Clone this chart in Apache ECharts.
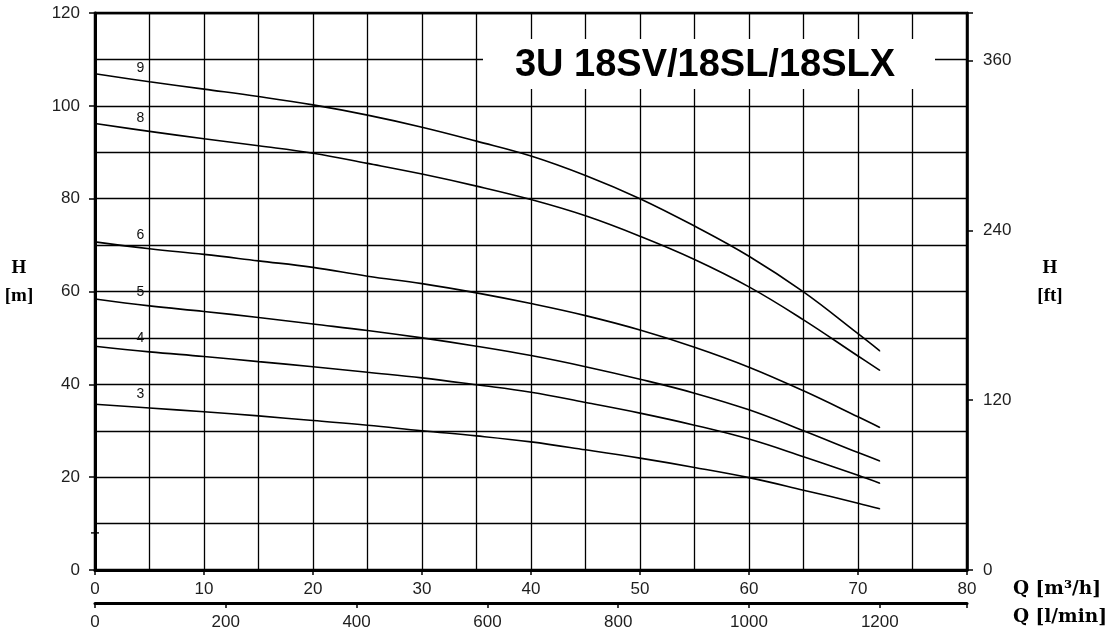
<!DOCTYPE html>
<html>
<head>
<meta charset="utf-8">
<script src="https://cdn.jsdelivr.net/npm/echarts@6/dist/echarts.min.js"></script>
<style>
  html, body { margin: 0; padding: 0; background: #fff; }
  #chart { width: 1111px; height: 633px; }
</style>
</head>
<body>
<div id="chart"></div>
<script>
// flow rate, m3/h
const flow = [0, 5, 10, 15, 20, 25, 30, 35, 40, 45, 50, 55, 60, 65, 70, 72]
// head, m (one curve per number of stages)
const head9 = [106.9, 105.2, 103.6, 102.0, 100.2, 98.0, 95.4, 92.4, 89.2, 85.0, 80.0, 74.1, 67.6, 59.9, 50.9, 47.2]
const head8 = [96.2, 94.5, 92.9, 91.4, 89.8, 87.6, 85.3, 82.7, 79.8, 76.3, 71.9, 66.9, 61.0, 53.9, 46.1, 43.0]
const head6 = [70.7, 69.2, 68.0, 66.6, 65.2, 63.3, 61.7, 59.7, 57.4, 54.8, 51.7, 48.0, 43.7, 38.6, 33.0, 30.7]
const head5 = [58.4, 56.9, 55.7, 54.4, 53.0, 51.6, 50.0, 48.2, 46.2, 43.8, 41.1, 38.1, 34.5, 30.0, 25.3, 23.5]
const head4 = [48.2, 47.0, 46.0, 44.9, 43.8, 42.6, 41.4, 39.9, 38.3, 36.1, 33.8, 31.2, 28.2, 24.4, 20.4, 18.7]
const head3 = [35.7, 34.9, 34.1, 33.2, 32.2, 31.2, 30.0, 28.9, 27.6, 25.9, 24.1, 22.1, 19.9, 17.2, 14.4, 13.2]
const curveNames = ['9', '8', '6', '5', '4', '3']
const curveHeads = [head9, head8, head6, head5, head4, head3]
// small cross on the H axis
const crossMark = [[0, 8]]

const FONT = '"Liberation Sans", Arial, sans-serif'
const SERIF = '"Liberation Serif", "Times New Roman", serif'
const labelStyle = { fontFamily: FONT, fontSize: 17, color: '#1e1e1e' }
const gridLine = { color: '#000', width: 1.3 }
const tickLine = { color: '#000', width: 1.5 }

const chart = echarts.init(document.getElementById('chart'))

const lineSeries = curveNames.map((name, k) => ({
  name: name,
  type: 'line',
  smooth: 0.4,
  symbol: 'circle',
  symbolSize: 1,
  itemStyle: { color: '#000', borderWidth: 0 },
  lineStyle: { color: '#000', width: 1.6 },
  xAxisIndex: 0,
  yAxisIndex: 0,
  z: 5,
  data: flow.map((x, i) => i === 1
    ? {
        value: [x, curveHeads[k][i]],
        label: {
          show: true,
          position: 'top',
          distance: 5,
          offset: [-9, -1],
          formatter: name,
          fontFamily: FONT,
          fontSize: 14,
          color: '#111'
        }
      }
    : [x, curveHeads[k][i]])
}))

// keep only labels that sit on the step
const stepLabel = (step) => (v) => (Math.abs(v / step - Math.round(v / step)) < 1e-6 ? String(Math.round(v)) : '')

const option = {
  animation: false,
  backgroundColor: '#fff',
  grid: {
    left: 95,
    right: 144,
    top: 13,
    bottom: 63,
    show: true,
    borderColor: '#000',
    borderWidth: 2.5
  },
  xAxis: [
    {
      type: 'value',
      position: 'bottom',
      min: 0,
      max: 80,
      interval: 10,
      axisLine: { show: true, onZero: false, lineStyle: { color: '#000', width: 3 } },
      axisTick: { show: true, inside: false, length: 5, lineStyle: tickLine },
      axisLabel: { ...labelStyle, margin: 11 },
      splitLine: { show: true, lineStyle: gridLine },
      minorTick: { show: false, splitNumber: 2 },
      minorSplitLine: { show: true, lineStyle: gridLine }
    },
    {
      type: 'value',
      position: 'bottom',
      offset: 33,
      min: 0,
      max: 80 * 1000 / 60,
      interval: 200,
      axisLine: { show: true, onZero: false, lineStyle: { color: '#000', width: 3 } },
      axisTick: { show: true, inside: false, length: 5, lineStyle: tickLine },
      axisLabel: { ...labelStyle, margin: 11, formatter: stepLabel(200) },
      splitLine: { show: false }
    }
  ],
  yAxis: [
    {
      type: 'value',
      position: 'left',
      min: 0,
      max: 120,
      interval: 20,
      axisLine: { show: true, onZero: false, lineStyle: { color: '#000', width: 3 } },
      axisTick: { show: true, inside: false, length: 6, lineStyle: tickLine },
      axisLabel: { ...labelStyle, margin: 15 },
      splitLine: { show: true, lineStyle: gridLine },
      minorTick: { show: false, splitNumber: 2 },
      minorSplitLine: { show: true, lineStyle: gridLine }
    },
    {
      type: 'value',
      position: 'right',
      min: 0,
      max: 120 / 0.3048,
      interval: 120,
      axisLine: { show: true, onZero: false, lineStyle: { color: '#000', width: 2.5 } },
      axisTick: { show: true, inside: false, length: 6, lineStyle: tickLine },
      axisLabel: { ...labelStyle, margin: 16, formatter: stepLabel(120) },
      splitLine: { show: false }
    }
  ],
  graphic: [
    // white box behind the title
    {
      type: 'rect',
      z: 10,
      shape: { x: 483, y: 39, width: 452, height: 50 },
      style: { fill: '#fff' }
    },
    {
      type: 'text',
      z: 11,
      style: {
        text: '3U 18SV/18SL/18SLX',
        x: 705, y: 66,
        align: 'center', verticalAlign: 'middle',
        textAlign: 'center', textVerticalAlign: 'middle',
        font: 'bold 38px ' + FONT,
        fill: '#000'
      }
    },
    axisTitle('H\n[m]', 19, 282, 'center', 19, SERIF),
    axisTitle('H\n[ft]', 1050, 282, 'center', 19, SERIF),
    axisTitle('Q [m³/h]', 1013, 589, 'left', 18.5, '"DejaVu Serif", serif'),
    axisTitle('Q [l/min]', 1013, 617, 'left', 18.5, '"DejaVu Serif", serif')
  ],
  series: [
    ...lineSeries,
    {
      type: 'scatter',
      xAxisIndex: 0,
      yAxisIndex: 0,
      symbol: 'path://M4,0h2v4h4v2h-4v4h-2v-4h-4v-2h4z',
      symbolSize: 8,
      itemStyle: { color: '#000' },
      z: 6,
      data: crossMark
    }
  ]
}

function axisTitle(text, x, y, align, size, family) {
  return {
    type: 'text',
    z: 11,
    style: {
      text: text,
      x: x, y: y,
      align: align, verticalAlign: 'middle',
      textAlign: align, textVerticalAlign: 'middle',
      font: 'bold ' + size + 'px ' + family,
      lineHeight: 28,
      fill: '#000'
    }
  }
}

chart.setOption(option)
</script>
</body>
</html>
